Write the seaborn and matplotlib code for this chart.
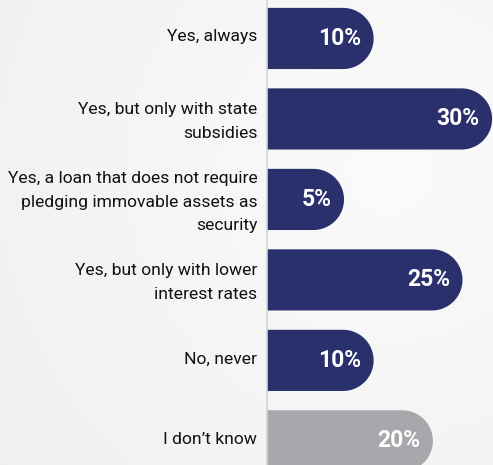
import numpy as np
import pandas as pd
import matplotlib
matplotlib.use("Agg")
import matplotlib.pyplot as plt
from matplotlib.path import Path
from matplotlib.patches import PathPatch
from matplotlib.transforms import ScaledTranslation
import seaborn as sns

# Survey answers and shares (%)
categories = [
    "Yes, always",
    "Yes, but only with state\nsubsidies",
    "Yes, a loan that does not require\npledging immovable assets as\nsecurity",
    "Yes, but only with lower\ninterest rates",
    "No, never",
    "I don\u2019t know",
]
values = [10, 30, 5, 25, 10, 20]
bar_colors = ["#29306b", "#29306b", "#29306b", "#29306b", "#29306b", "#a8a7ab"]

BASE = -8.0  # bars grow out of a short stub to the left of zero

sns.set_theme(style="white")
plt.rcParams["font.family"] = ["Roboto", "DejaVu Sans"]

W, H, DPI = 493, 465, 100
fig = plt.figure(figsize=(W / DPI, H / DPI), dpi=DPI)

# soft radial background
bg = fig.add_axes([0, 0, 1, 1], zorder=-10)
yy, xx = np.mgrid[0:H, 0:W]
d = np.sqrt(((xx - 390) / 450.0) ** 2 + ((yy - 170) / 450.0) ** 2)
shade = np.clip(0.984 - 0.04 * d, 0.94, 0.984)
bg.imshow(np.dstack([shade] * 3), aspect="auto", extent=[0, 1, 0, 1],
          interpolation="bilinear")
bg.set_axis_off()

left_px = 267
ax = fig.add_axes([left_px / W, 0, (W - left_px) / W, 1])
ax.patch.set_alpha(0)

df = pd.DataFrame({"answer": categories, "share": values})
sns.barplot(data=df, x="share", y="answer", hue="answer", palette=bar_colors,
            orient="h", width=0.76, legend=False, ax=ax, saturation=1)

ax.set_xlim(BASE, 30.15)
ax.set_ylim(5.30, -0.478)

# px per data unit for building circular caps
px_x = (W - left_px) / (30.15 - BASE)
px_y = H / (5.30 + 0.478)

bars = list(ax.patches)
for patch, v, col in zip(bars, values, bar_colors):
    y0 = patch.get_y()
    h = patch.get_height()
    patch.remove()
    r_px = h * px_y / 2.0
    rx = r_px / px_x
    xs = v - rx
    yc = y0 + h / 2.0
    theta = np.linspace(np.pi / 2, -np.pi / 2, 40)
    cap = np.column_stack([xs + rx * np.cos(theta), yc - (h / 2.0) * np.sin(theta)])
    verts = np.vstack([[[BASE, y0]], [[xs, y0]], cap, [[BASE, y0 + h]], [[BASE, y0]]])
    codes = [Path.MOVETO] + [Path.LINETO] * (len(verts) - 2) + [Path.CLOSEPOLY]
    ax.add_patch(PathPatch(Path(verts, codes), facecolor=col, edgecolor="none",
                           clip_on=False, zorder=2))
    ax.text(v - 12.5 / px_x, yc, f"{v}%", ha="right", va="center", color="white",
            fontsize=16.5, fontweight="bold", zorder=3)

ax.set_xlabel("")
ax.set_ylabel("")
ax.set_xticks([])
ax.tick_params(axis="y", length=0, pad=7, labelsize=12.6, labelcolor="#111111")
lift = ScaledTranslation(0, 3 / DPI, fig.dpi_scale_trans)
for lbl in ax.get_yticklabels():
    lbl.set_linespacing(1.68)
    lbl.set_transform(lbl.get_transform() + lift)
for s in ["top", "right", "bottom"]:
    ax.spines[s].set_visible(False)
ax.spines["left"].set_color("#d4d4d4")
ax.spines["left"].set_linewidth(1.2)

fig.savefig("out.png", dpi=DPI)
